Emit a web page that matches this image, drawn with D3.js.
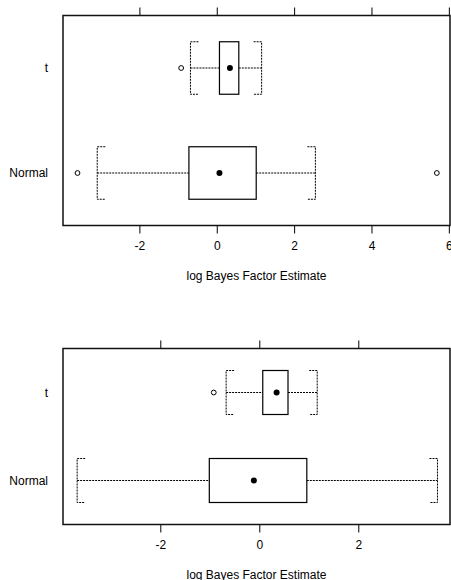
<!DOCTYPE html>
<html>
<head>
<meta charset="utf-8">
<script src="https://cdn.jsdelivr.net/npm/d3@7"></script>
<style>
  html, body { margin: 0; padding: 0; background: #fff; }
  svg { display: block; }
  text { font-family: "Liberation Sans", Arial, Helvetica, sans-serif; font-size: 12px; fill: #000; }
</style>
</head>
<body>
<svg id="chart" width="451" height="580"></svg>
<script>
// ---- Data ----
const categories = ["t", "Normal"];
const axisTitle = "log Bayes Factor Estimate";

// Top panel
const top_ticks = [-2, 0, 2, 4, 6];
const top_domain = [-3.975, 6.03];
const top_whiskerLo = [-0.68, -3.09];
const top_q1 = [0.07, -0.72];
const top_median = [0.34, 0.07];
const top_q3 = [0.57, 1.02];
const top_whiskerHi = [1.16, 2.55];
const top_outliers = [[-0.92], [-3.6, 5.69]];

// Bottom panel
const bot_ticks = [-2, 0, 2];
const bot_domain = [-3.966, 3.853];
const bot_whiskerLo = [-0.67, -3.68];
const bot_q1 = [0.07, -1.01];
const bot_median = [0.35, -0.11];
const bot_q3 = [0.58, 0.96];
const bot_whiskerHi = [1.17, 3.60];
const bot_outliers = [[-0.92], []];

const svg = d3.select("#chart");

function drawPanel(p) {
  const g = svg.append("g");
  const x = d3.scaleLinear().domain(p.domain).range([p.left, p.right]);
  const y = d3.scalePoint().domain(categories).range([p.top, p.bottom]).padding(0.5);
  const step = y.step();
  const bh = step * 0.5;

  // ticks bottom
  const axB = d3.axisBottom(x).tickValues(p.ticks).tickSize(8).tickPadding(6).tickFormat(d => String(d));
  const gb = g.append("g").attr("transform", `translate(0,${p.bottom})`).call(axB);
  gb.select(".domain").remove();
  gb.selectAll("line").attr("stroke", "#000");
  gb.selectAll("text").style("font-size", "12px").attr("fill", "#000").attr("dy", "0.9em");

  // ticks top (no labels)
  const axT = d3.axisTop(x).tickValues(p.ticks).tickSize(8).tickFormat("");
  const gt = g.append("g").attr("transform", `translate(0,${p.top})`).call(axT);
  gt.select(".domain").remove();
  gt.selectAll("line").attr("stroke", "#000");

  // y labels
  g.selectAll(".ylab").data(categories).enter().append("text")
    .attr("x", p.left - 15).attr("y", d => y(d)).attr("dy", "0.35em")
    .attr("text-anchor", "end").attr("fill", "#000").text(d => d);

  const dash = "2,1";
  categories.forEach((c, i) => {
    const cy = y(c);
    const y0 = cy - bh / 2, y1 = cy + bh / 2;
    const lo = x(p.whiskerLo[i]), hi = x(p.whiskerHi[i]);
    const qa = x(p.q1[i]), qb = x(p.q3[i]);
    const wg = g.append("g").attr("stroke", "#000").attr("stroke-width", 1).attr("stroke-dasharray", dash).attr("fill", "none");
    // whiskers
    wg.append("line").attr("x1", lo).attr("x2", qa).attr("y1", cy).attr("y2", cy);
    wg.append("line").attr("x1", qb).attr("x2", hi).attr("y1", cy).attr("y2", cy);
    // caps "[" and "]"
    wg.append("path").attr("d", `M${lo + 8},${y0}H${lo}V${y1}H${lo + 8}`);
    wg.append("path").attr("d", `M${hi - 8},${y0}H${hi}V${y1}H${hi - 8}`);
    // box
    g.append("rect").attr("x", qa).attr("y", y0).attr("width", qb - qa).attr("height", bh)
      .attr("fill", "none").attr("stroke", "#000").attr("stroke-width", 1.2);
    // median
    g.append("circle").attr("cx", x(p.median[i])).attr("cy", cy).attr("r", 3).attr("fill", "#000");
    // outliers
    g.selectAll(null).data(p.outliers[i]).enter().append("circle")
      .attr("cx", d => x(d)).attr("cy", cy).attr("r", 2.4)
      .attr("fill", "none").attr("stroke", "#000").attr("stroke-width", 1);
  });

  // frame
  g.append("rect").attr("x", p.left).attr("y", p.top).attr("width", p.right - p.left).attr("height", p.bottom - p.top)
    .attr("fill", "none").attr("stroke", "#111").attr("stroke-width", 1.5);

  // axis title
  g.append("text").attr("x", 256.5).attr("y", p.titleY).attr("text-anchor", "middle").attr("fill", "#000").text(axisTitle);
}

drawPanel({
  domain: top_domain, ticks: top_ticks, left: 63, right: 450, top: 15.5, bottom: 225.5, titleY: 279.5,
  whiskerLo: top_whiskerLo, q1: top_q1, median: top_median, q3: top_q3, whiskerHi: top_whiskerHi, outliers: top_outliers
});
drawPanel({
  domain: bot_domain, ticks: bot_ticks, left: 63, right: 450, top: 348.5, bottom: 524.5, titleY: 578.5,
  whiskerLo: bot_whiskerLo, q1: bot_q1, median: bot_median, q3: bot_q3, whiskerHi: bot_whiskerHi, outliers: bot_outliers
});
</script>
</body>
</html>
